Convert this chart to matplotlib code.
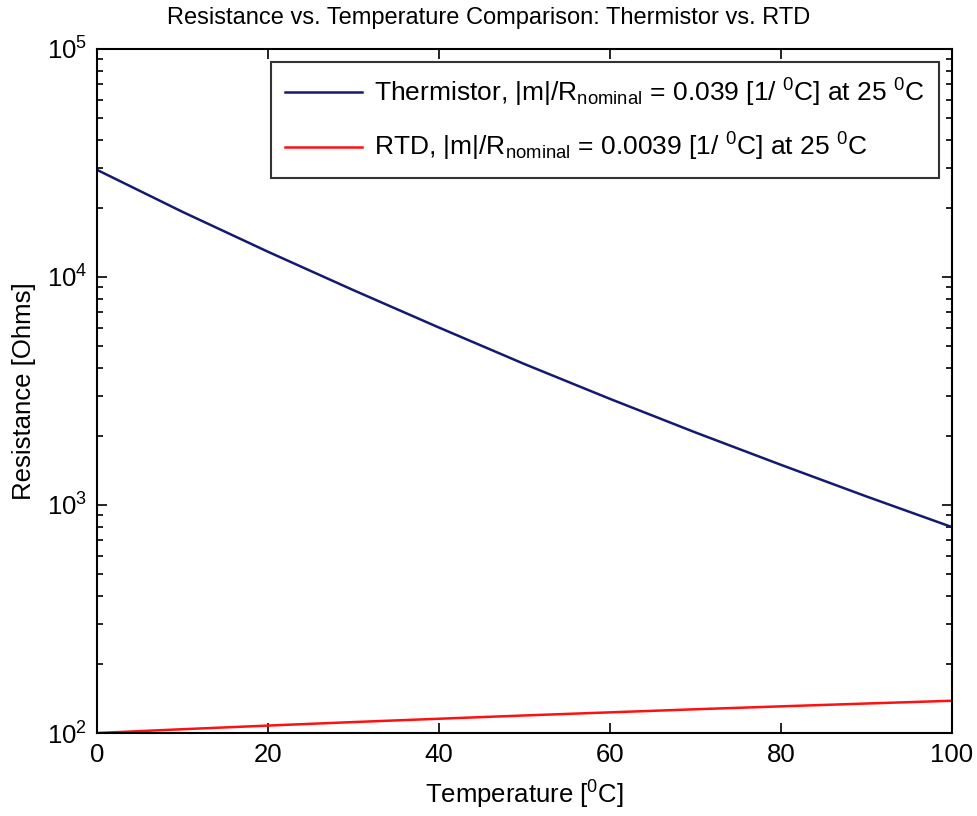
import numpy as np
import matplotlib
matplotlib.use('Agg')
import matplotlib.pyplot as plt
from matplotlib.ticker import LogLocator, FixedLocator

# Data
temperature = [0, 10, 20, 30, 40, 50, 60, 70, 80, 90, 100]
thermistor = [29500, 19300, 12900, 8750, 6000, 4150, 2920, 2080, 1500, 1090, 800]
rtd = [100.0, 103.9, 107.8, 111.7, 115.5, 119.4, 123.2, 127.1, 130.9, 134.7, 138.5]

x_ticks = [0, 20, 40, 60, 80, 100]

plt.rcParams['font.family'] = ['Liberation Sans', 'DejaVu Sans']
plt.rcParams['mathtext.fontset'] = 'custom'
plt.rcParams['mathtext.rm'] = 'Liberation Sans'
plt.rcParams['mathtext.it'] = 'Liberation Sans:italic'
plt.rcParams['mathtext.bf'] = 'Liberation Sans:bold'

fig = plt.figure(figsize=(9.77, 8.16), dpi=100)
ax = fig.add_axes([0.0993, 0.1017, 0.8751, 0.8383])

ax.semilogy(temperature, thermistor, color='#141a6e', linewidth=1.8,
            label=r'Thermistor, |m|/R$_{\mathrm{nominal}}$ = 0.039 [1/ $^{0}$C] at 25 $^{0}$C')
ax.semilogy(temperature, rtd, color='#ff1010', linewidth=1.8,
            label=r'RTD, |m|/R$_{\mathrm{nominal}}$ = 0.0039 [1/ $^{0}$C] at 25 $^{0}$C')

ax.set_xlim(0, 100)
ax.set_ylim(1e2, 1e5)
ax.xaxis.set_major_locator(FixedLocator(x_ticks))
ax.yaxis.set_major_locator(LogLocator(base=10, numticks=10))
ax.yaxis.set_minor_locator(LogLocator(base=10, subs=np.arange(2, 10), numticks=10))

ax.tick_params(which='both', direction='in', top=True, right=True, labelsize=18.5)
ax.tick_params(which='major', length=7, width=1.2, pad=7)
ax.tick_params(which='minor', length=4, width=1.2)
ax.tick_params(axis='x', which='minor', top=False, bottom=False)
for s in ax.spines.values():
    s.set_linewidth(1.5)

fig.text(0.5, 0.978, 'Resistance vs. Temperature Comparison: Thermistor vs. RTD',
         fontsize=17, ha='center', va='center')
ax.set_xlabel(r'Temperature [$^{0}$C]', fontsize=18.5, labelpad=9)
ax.set_ylabel('Resistance [Ohms]', fontsize=18.5, labelpad=8)

leg = ax.legend(loc='upper right', fontsize=19, handlelength=2.9, handletextpad=0.45,
                frameon=True, fancybox=False, edgecolor='black', borderaxespad=0.5,
                labelspacing=0.85, borderpad=0.55)
leg.get_frame().set_linewidth(1.5)

fig.savefig('out.png', dpi=100)
